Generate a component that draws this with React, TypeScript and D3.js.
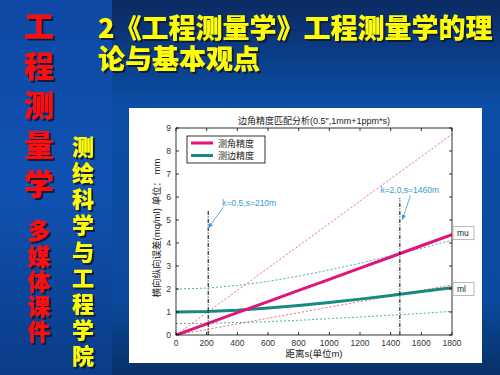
import React from 'react'
import * as d3 from 'd3'

// slide texts
const titleLines = ['2《工程测量学》工程测量学的理', '论与基本观点']
const redTop = '工程测量学'
const redBottom = '多媒体课件'
const yellowCol = '测绘科学与工程学院'

// chart data
const distance = [0, 200, 400, 600, 800, 1000, 1200, 1400, 1600, 1800]
const muValues = [0, 0.48, 0.97, 1.45, 1.94, 2.42, 2.91, 3.39, 3.88, 4.36]
const mlValues = [1.0, 1.02, 1.08, 1.17, 1.28, 1.41, 1.56, 1.72, 1.89, 2.06]
const muUpper = [0, 0.97, 1.94, 2.91, 3.88, 4.85, 5.82, 6.79, 7.76, 8.73]
const muLower = [0, 0.24, 0.48, 0.73, 0.97, 1.21, 1.45, 1.7, 1.94, 2.18]
const mlUpper = [2.0, 2.04, 2.15, 2.33, 2.56, 2.83, 3.12, 3.44, 3.77, 4.12]
const mlLower = [0.5, 0.51, 0.54, 0.58, 0.64, 0.71, 0.78, 0.86, 0.94, 1.03]

const markerS = [210, 1460]
const markerTop = [5.4, 5.95]
const noteLabels = ['k=0.5,s=210m', 'k=2.0,s=1460m']
const noteTextAt = [[302, 5.73], [1524, 6.29]]
const noteAnchor = ['start', 'middle']
const noteFrom = [[308, 5.56], [1529, 6.07]]
const noteTo = [[211, 4.65], [1476, 5.01]]

const legendNames = ['测角精度', '测边精度']
const endLabels = ['mu', 'ml']
const endLabelY = [4.43, 2.0]

const MAGENTA = '#e0147a'
const TEAL = '#148a80'
const NOTE = '#3a9ad0'
const CHART_FONT = '"Liberation Sans", Arial, "Noto Sans CJK SC", sans-serif'
const CJK = '"Noto Sans CJK SC", sans-serif'

const App = () => {
    const x = d3.scaleLinear().domain([0, 1800]).range([176, 452])
    const y = d3.scaleLinear().domain([0, 9]).range([335, 128])
    const [x0, x1] = x.range()
    const [y0, y1] = y.range()

    const line = d3.line<number>()
        .x((d, i) => x(distance[i]))
        .y(d => y(d))

    const xTicks = x.ticks(9)
    const yTicks = y.ticks(9)

    // vertical column of characters, one text element
    const column = (t: string, cx: number, top: number, size: number, step: number, fill: string) => (
        <text x={cx} y={top} fill={fill} fontFamily={CJK} fontWeight={900} fontSize={size}
            style={{ writingMode: 'vertical-rl', letterSpacing: `${step - size}px` }}
            filter="url(#shadow)">{t}</text>
    )

    return (
        <svg width={500} height={375} style={{ position: 'fixed', left: 0, top: 0, display: 'block' }}>
            <defs>
                <linearGradient id="bg" x1="0" y1="0" x2="0" y2="1">
                    <stop offset="0" stopColor="#0b2a62" />
                    <stop offset="0.28" stopColor="#0b4ea6" />
                    <stop offset="0.8" stopColor="#0a4a9e" />
                    <stop offset="0.96" stopColor="#083571" />
                    <stop offset="1" stopColor="#07306a" />
                </linearGradient>
                <linearGradient id="side" x1="0" y1="0" x2="0" y2="1">
                    <stop offset="0" stopColor="#0e48a4" />
                    <stop offset="0.5" stopColor="#1052b2" />
                    <stop offset="1" stopColor="#0a3c88" />
                </linearGradient>
                <filter id="shadow" x="-20%" y="-20%" width="150%" height="150%">
                    <feDropShadow dx="2" dy="2" stdDeviation="0.4" floodColor="#101830" floodOpacity="0.9" />
                </filter>
                <clipPath id="plot">
                    <rect x={x0} y={y1} width={x1 - x0} height={y0 - y1} />
                </clipPath>
                <marker id="arrow" viewBox="0 0 10 10" refX="9" refY="5" markerWidth="7" markerHeight="7" orient="auto">
                    <path d="M0,1 L10,5 L0,9 z" fill={NOTE} />
                </marker>
            </defs>

            {/* slide background */}
            <rect width={500} height={375} fill="url(#bg)" />
            <rect width={112} height={375} fill="url(#side)" />

            <text x={98} y={38} fill="#ffff00" fontFamily={CJK} fontWeight={900} fontSize={27} filter="url(#shadow)">
                {titleLines.map((t, i) => (
                    <tspan key={t} x={98} dy={i === 0 ? 0 : 31}>{t}</tspan>
                ))}
            </text>
            {column(redTop, 39, 11, 30, 39.5, '#ff1010')}
            {column(redBottom, 39, 219, 23, 25.3, '#ff1010')}
            {column(yellowCol, 83, 135.5, 22, 26.2, '#ffff00')}

            {/* figure */}
            <rect x={129} y={108} width={353} height={255} fill="#ffffff" />

            <g clipPath="url(#plot)" fill="none">
                <path d={line(muUpper) ?? ''} stroke="#e8405a" strokeWidth={0.8} strokeDasharray="2,2" />
                <path d={line(muLower) ?? ''} stroke="#e8405a" strokeWidth={0.8} strokeDasharray="2,2" />
                <path d={line(mlUpper) ?? ''} stroke="#2a9a8a" strokeWidth={0.8} strokeDasharray="2,2" />
                <path d={line(mlLower) ?? ''} stroke="#2a9a8a" strokeWidth={0.8} strokeDasharray="2,2" />
                <path d={line(mlValues) ?? ''} stroke={TEAL} strokeWidth={3} />
                <path d={line(muValues) ?? ''} stroke={MAGENTA} strokeWidth={3} />
                {markerS.map((s, i) => (
                    <line key={s} x1={x(s)} x2={x(s)} y1={y(0)} y2={y(markerTop[i])}
                        stroke="#000" strokeWidth={1} strokeDasharray="4,1.5,1,1.5" />
                ))}
            </g>

            {/* axes box with inward ticks */}
            <rect x={x0} y={y1} width={x1 - x0} height={y0 - y1} fill="none" stroke="#000" strokeWidth={0.8} />
            <g stroke="#000" strokeWidth={0.8}>
                {xTicks.map(t => (
                    <g key={'xt' + t}>
                        <line x1={x(t)} x2={x(t)} y1={y0} y2={y0 - 3} />
                        <line x1={x(t)} x2={x(t)} y1={y1} y2={y1 + 3} />
                    </g>
                ))}
                {yTicks.map(t => (
                    <g key={'yt' + t}>
                        <line x1={x0} x2={x0 + 3} y1={y(t)} y2={y(t)} />
                        <line x1={x1} x2={x1 - 3} y1={y(t)} y2={y(t)} />
                    </g>
                ))}
            </g>
            <g fontFamily={CHART_FONT} fontSize={8.5} fill="#333">
                {xTicks.map(t => (
                    <text key={'xl' + t} x={x(t)} y={y0 + 11} textAnchor="middle">{t}</text>
                ))}
                {yTicks.map(t => (
                    <text key={'yl' + t} x={x0 - 5} y={y(t) + 3} textAnchor="end">{t}</text>
                ))}
            </g>

            <g fontFamily={CHART_FONT} fill="#222">
                <text x={(x0 + x1) / 2} y={124} textAnchor="middle" fontSize={9}>边角精度匹配分析(0.5",1mm+1ppm*s)</text>
                <text x={(x0 + x1) / 2} y={357} textAnchor="middle" fontSize={9.5}>距离s(单位m)</text>
                <text transform={`translate(160,228) rotate(-90)`} textAnchor="middle" fontSize={9.5}>横向纵向误差(mq/ml) 单位： mm</text>
            </g>

            {/* legend */}
            <rect x={187} y={136} width={78} height={27} fill="#fff" stroke="#000" strokeWidth={0.8} />
            {legendNames.map((n, i) => (
                <g key={n}>
                    <line x1={191} x2={213} y1={143 + i * 12.5} y2={143 + i * 12.5} stroke={i === 0 ? MAGENTA : TEAL} strokeWidth={3} />
                    <text x={218} y={146.5 + i * 12.5} fontFamily={CJK} fontSize={9} fill="#222">{n}</text>
                </g>
            ))}

            {/* annotations */}
            {noteLabels.map((n, i) => (
                <g key={n}>
                    <line x1={x(noteFrom[i][0])} y1={y(noteFrom[i][1])} x2={x(noteTo[i][0])} y2={y(noteTo[i][1])}
                        stroke={NOTE} strokeWidth={0.8} markerEnd="url(#arrow)" />
                    <text x={x(noteTextAt[i][0])} y={y(noteTextAt[i][1]) + 3} textAnchor={noteAnchor[i]}
                        fontFamily={CHART_FONT} fontSize={8.5} fill={NOTE}>{n}</text>
                </g>
            ))}

            {/* end labels */}
            {endLabels.map((l, i) => (
                <g key={l}>
                    <rect x={x1 + 1} y={y(endLabelY[i]) - 6.5} width={21} height={13} fill="#fff" stroke="#aaa" strokeWidth={0.8} />
                    <text x={x1 + 5} y={y(endLabelY[i]) + 3} fontFamily={CHART_FONT} fontSize={8.5} fill="#222">{l}</text>
                </g>
            ))}
        </svg>
    )
}

export default App
